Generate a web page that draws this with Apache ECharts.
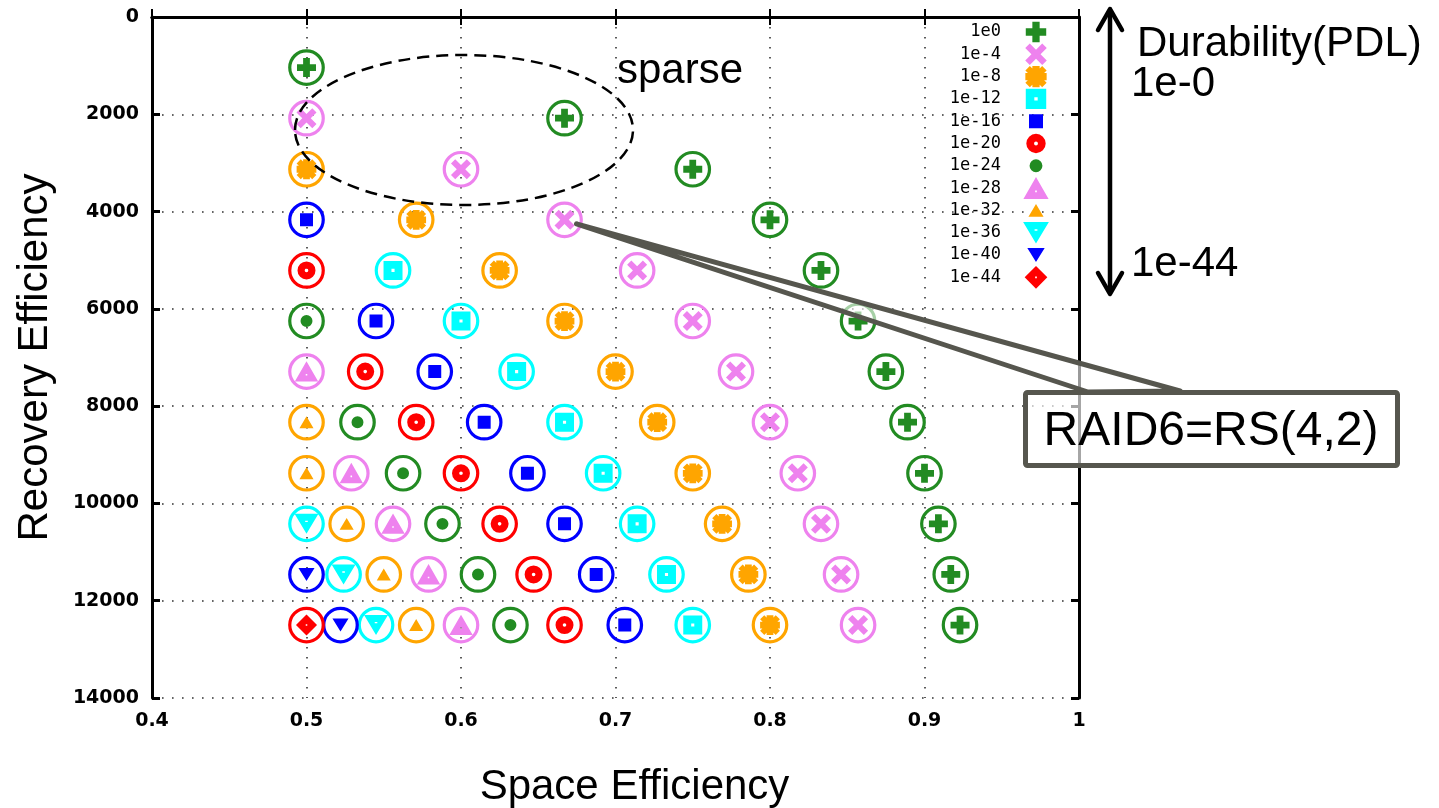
<!DOCTYPE html>
<html><head><meta charset="utf-8">
<script src="https://cdn.jsdelivr.net/npm/echarts@6/dist/echarts.min.js"></script>
<style>html,body{margin:0;padding:0;background:#fff}#c{width:1439px;height:808px}</style>
</head><body><div id="c"></div>
<script>
// ---- data ----
const levels = ['1e0','1e-4','1e-8','1e-12','1e-16','1e-20','1e-24','1e-28','1e-32','1e-36','1e-40','1e-44'];
const xTicks = [0.4, 0.5, 0.6, 0.7, 0.8, 0.9, 1];
const yTicks = [0, 2000, 4000, 6000, 8000, 10000, 12000, 14000];
// [space efficiency, recovery efficiency]
const pts_1e0  = [[0.5,1040],[0.667,2080],[0.75,3130],[0.8,4170],[0.833,5210],[0.857,6250],[0.875,7290],[0.889,8330],[0.9,9380],[0.909,10420],[0.917,11460],[0.923,12500]];
const pts_1e4  = [[0.5,2080],[0.6,3130],[0.667,4170],[0.714,5210],[0.75,6250],[0.778,7290],[0.8,8330],[0.818,9380],[0.833,10420],[0.846,11460],[0.857,12500]];
const pts_1e8  = [[0.5,3130],[0.571,4170],[0.625,5210],[0.667,6250],[0.7,7290],[0.727,8330],[0.75,9380],[0.769,10420],[0.786,11460],[0.8,12500]];
const pts_1e12 = [[0.556,5210],[0.6,6250],[0.636,7290],[0.667,8330],[0.692,9380],[0.714,10420],[0.733,11460],[0.75,12500]];
const pts_1e16 = [[0.5,4170],[0.545,6250],[0.583,7290],[0.615,8330],[0.643,9380],[0.667,10420],[0.6875,11460],[0.706,12500]];
const pts_1e20 = [[0.5,5210],[0.538,7290],[0.571,8330],[0.6,9380],[0.625,10420],[0.647,11460],[0.667,12500]];
const pts_1e24 = [[0.5,6250],[0.533,8330],[0.5625,9380],[0.588,10420],[0.611,11460],[0.632,12500]];
const pts_1e28 = [[0.5,7290],[0.529,9380],[0.556,10420],[0.579,11460],[0.6,12500]];
const pts_1e32 = [[0.5,8330],[0.5,9380],[0.526,10420],[0.55,11460],[0.571,12500]];
const pts_1e36 = [[0.5,10420],[0.524,11460],[0.545,12500]];
const pts_1e40 = [[0.5,11460],[0.522,12500]];
const pts_1e44 = [[0.5,12500]];
const pointSets = [pts_1e0,pts_1e4,pts_1e8,pts_1e12,pts_1e16,pts_1e20,pts_1e24,pts_1e28,pts_1e32,pts_1e36,pts_1e40,pts_1e44];
const calloutPoint = [0.667, 4170];

// ---- styles ----
const colors = ['#228B22','#EE82EE','#FFA500','#00FFFF','#0000FF','#FF0000','#228B22','#EE82EE','#FFA500','#00FFFF','#0000FF','#FF0000'];
const PAD = 'M0 0L0.01 0M100 100L99.99 100';
const shapes = [
  'M37 13.5H63V37H86.5V63H63V86.5H37V63H13.5V37H37Z',
  'M11.5 27.8L27.8 11.5L50 33.7L72.2 11.5L88.5 27.8L66.3 50L88.5 72.2L72.2 88.5L50 66.3L27.8 88.5L11.5 72.2L33.7 50Z',
  'M37 12H63V37H88V63H63V88H37V63H12V37H37Z M12 28L28 12L50 34L72 12L88 28L66 50L88 72L72 88L50 66L28 88L12 72L34 50Z',
  'M13.5 13.5H86.5V86.5H13.5Z M44 44V56H56V44Z',
  'M25 25H75V75H25Z',
  'M15.4 50A34.6 34.6 0 1 1 84.6 50A34.6 34.6 0 1 1 15.4 50Z M43 50A7 7 0 1 0 57 50A7 7 0 1 0 43 50Z',
  'M27 50A23 23 0 1 1 73 50A23 23 0 1 1 27 50Z',
  'M50 10L95 88.5H5Z M47 59V65H53V59Z',
  'M50 27L77 73H23Z',
  'M4 11.5H96L50 88.5Z M45 38V43H55V38Z',
  'M19 25H81L50 75Z',
  'M50 9.5L90.5 50L50 90.5L9.5 50Z M47 47V53H53V47Z'
];

const series = [];
levels.forEach((lv, i) => {
  series.push({
    type: 'scatter', name: 'ring ' + lv, data: pointSets[i], symbol: 'circle', symbolSize: 33.5,
    itemStyle: { color: 'rgba(0,0,0,0)', borderColor: colors[i], borderWidth: 3.2, opacity: 1 },
    silent: true, z: 2
  });
});
levels.forEach((lv, i) => {
  series.push({
    type: 'scatter', name: lv, data: pointSets[i], symbol: 'path://' + shapes[i] + PAD, symbolSize: 26,
    itemStyle: { color: colors[i], opacity: 1 }, silent: true, z: 3
  });
});

const gridLine = { show: true, lineStyle: { color: '#333', width: 1.6, type: [1.6, 8.4] } };
const axisLine = { show: true, lineStyle: { color: '#000', width: 3 } };
const tickFont = { fontFamily: 'DejaVu Sans', fontWeight: 'bold', fontSize: 19, color: '#000' };

const chart = echarts.init(document.getElementById('c'), null, { renderer: 'canvas' });
const option = {
  animation: false,
  backgroundColor: '#fff',
  grid: { left: 152, right: 360, top: 17, bottom: 110, containLabel: false, outerBoundsMode: 'none' },
  legend: {
    data: levels, orient: 'vertical', right: 389, top: 18, align: 'right',
    itemWidth: 60, itemHeight: 28, itemGap: -5.7, padding: 0, selectedMode: false,
    itemStyle: { opacity: 1 },
    textStyle: { fontFamily: 'DejaVu Sans Mono', fontSize: 17, color: '#000' }
  },
  xAxis: [
    {
      type: 'value', min: xTicks[0], max: xTicks[xTicks.length - 1], interval: 0.1, position: 'bottom',
      axisLine: axisLine, axisTick: { show: true, inside: true, length: 8, lineStyle: { color: '#000', width: 2 } },
      axisLabel: Object.assign({ margin: 14, formatter: v => String(Math.round(v * 10) / 10) }, tickFont),
      splitLine: gridLine,
      name: 'Space Efficiency', nameLocation: 'middle', nameGap: 68,
      nameTextStyle: { fontFamily: 'Liberation Sans', fontSize: 42, color: '#000', padding: [0, 0, 0, 38] }
    },
    {
      type: 'value', min: xTicks[0], max: xTicks[xTicks.length - 1], interval: 0.1, position: 'top',
      axisLine: axisLine, axisTick: { show: true, inside: true, length: 8, lineStyle: { color: '#000', width: 2 } },
      axisLabel: { show: false }, splitLine: { show: false }
    }
  ],
  yAxis: [
    {
      type: 'value', inverse: true, min: yTicks[0], max: yTicks[yTicks.length - 1], interval: 2000, position: 'left',
      axisLine: axisLine, axisTick: { show: true, inside: true, length: 8, lineStyle: { color: '#000', width: 3 } },
      axisLabel: Object.assign({ margin: 13, formatter: v => String(v) }, tickFont),
      splitLine: gridLine,
      name: 'Recovery Efficiency', nameLocation: 'middle', nameGap: 96, nameRotate: 90,
      nameTextStyle: { fontFamily: 'Liberation Sans', fontSize: 42, color: '#000', padding: [0, 0, 0, 0] }
    },
    {
      type: 'value', inverse: true, min: yTicks[0], max: yTicks[yTicks.length - 1], interval: 2000, position: 'right',
      axisLine: axisLine, axisTick: { show: true, inside: true, length: 8, lineStyle: { color: '#000', width: 3 } },
      axisLabel: { show: false }, splitLine: { show: false }
    }
  ],
  series: series
};
chart.setOption(option);

const p = chart.convertToPixel({ xAxisIndex: 0, yAxisIndex: 0 }, calloutPoint);
const ink = '#56564e';
const font42 = '42px "Liberation Sans", Arial, sans-serif';
chart.setOption({
  graphic: [
    { type: 'ellipse', shape: { cx: 464, cy: 130, rx: 169, ry: 75 }, silent: true, z: 10,
      style: { fill: 'none', stroke: '#000', lineWidth: 2.5, lineDash: [12, 7] } },
    { type: 'text', left: 617, top: 50, silent: true, z: 10,
      style: { text: 'sparse', font: font42, fill: '#000' } },
    { type: 'polygon', silent: true, z: 11,
      shape: { points: [[p[0] + 12, p[1] + 4], [1180, 391], [1088, 392]] },
      style: { fill: 'rgba(255,255,255,0.6)', stroke: ink, lineWidth: 5, lineJoin: 'round' } },
    { type: 'rect', silent: true, z: 12, shape: { x: 1025.5, y: 392.5, width: 372, height: 73, r: 2 },
      style: { fill: 'rgba(255,255,255,0.65)', stroke: ink, lineWidth: 5 } },
    { type: 'text', silent: true, z: 13, x: 1211, y: 432,
      style: { text: 'RAID6=RS(4,2)', font: '48px "Liberation Sans", Arial, sans-serif', fill: '#000', align: 'center', verticalAlign: 'middle' } },
    { type: 'line', silent: true, z: 10, shape: { x1: 1110, y1: 10, x2: 1110, y2: 293 },
      style: { stroke: '#000', lineWidth: 4.5 } },
    { type: 'polyline', silent: true, z: 10, shape: { points: [[1098, 30], [1110, 9], [1122, 30]] },
      style: { stroke: '#000', lineWidth: 4.5, fill: 'none', lineCap: 'round', lineJoin: 'round' } },
    { type: 'polyline', silent: true, z: 10, shape: { points: [[1098, 273], [1110, 294], [1122, 273]] },
      style: { stroke: '#000', lineWidth: 4.5, fill: 'none', lineCap: 'round', lineJoin: 'round' } },
    { type: 'text', silent: true, z: 10, x: 1137, y: 44,
      style: { text: 'Durability(PDL)', font: font42, fill: '#000', verticalAlign: 'middle' } },
    { type: 'text', silent: true, z: 10, x: 1131, y: 84,
      style: { text: '1e-0', font: font42, fill: '#000', verticalAlign: 'middle' } },
    { type: 'text', silent: true, z: 10, x: 1131, y: 264,
      style: { text: '1e-44', font: font42, fill: '#000', verticalAlign: 'middle' } }
  ]
});
</script>
</body></html>
